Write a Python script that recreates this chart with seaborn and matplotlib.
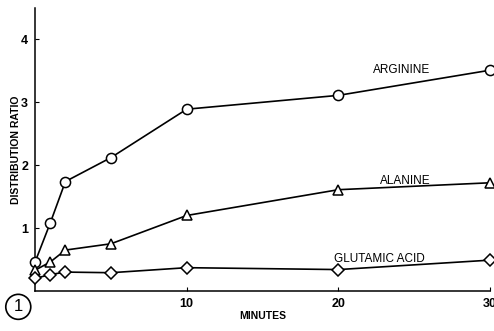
import matplotlib
matplotlib.use("Agg")
import matplotlib.pyplot as plt
import seaborn as sns
import pandas as pd

# data
minutes = [0, 1, 2, 5, 10, 20, 30]
arginine = [0.46, 1.08, 1.74, 2.12, 2.89, 3.11, 3.51]
alanine = [0.33, 0.46, 0.65, 0.75, 1.20, 1.61, 1.72]
glutamic = [0.20, 0.26, 0.30, 0.29, 0.37, 0.34, 0.49]

series = {"ARGININE": (arginine, "o"), "ALANINE": (alanine, "^"), "GLUTAMIC ACID": (glutamic, "D")}

sns.set_style("ticks")
plt.rcParams["font.family"] = ["Liberation Sans", "DejaVu Sans"]
plt.rcParams["text.color"] = "black"
plt.rcParams["axes.labelcolor"] = "black"

fig = plt.figure(figsize=(4.94, 3.31), dpi=100)
ax = fig.add_axes([0.071, 0.121, 0.921, 0.855])

for name, (vals, mk) in series.items():
    df = pd.DataFrame({"Minutes": minutes, "Ratio": vals})
    ms = 6.5 if mk == "D" else 7.3
    sns.lineplot(data=df, x="Minutes", y="Ratio", ax=ax, color="black", lw=1.2,
                 marker=mk, markersize=ms, markerfacecolor="white",
                 markeredgecolor="black", markeredgewidth=1.1, clip_on=False, zorder=3)

ax.set_xlim(0, 30)
ax.set_ylim(0, 4.5)
ax.set_xticks([10, 20, 30])
ax.set_xticklabels(["10", "20", "30"])
ax.set_yticks([1, 2, 3, 4])
ax.tick_params(direction="in", length=3, width=0.8, labelsize=9, pad=5, colors="black")
for lab in ax.get_xticklabels() + ax.get_yticklabels():
    lab.set_fontweight("bold")
sns.despine(ax=ax)
ax.spines["left"].set_linewidth(1.1)
ax.spines["bottom"].set_linewidth(1.1)
ax.spines["left"].set_color("black")
ax.spines["bottom"].set_color("black")

ax.set_xlabel("MINUTES", fontsize=7.5, fontweight="bold", labelpad=1)
ax.set_ylabel("DISTRIBUTION RATIO", fontsize=7.5, fontweight="bold", labelpad=0)

ax.text(24.2, 3.42, "ARGININE", fontsize=8.5, ha="center", va="bottom")
ax.text(24.4, 1.66, "ALANINE", fontsize=8.5, ha="center", va="bottom")
ax.text(22.7, 0.42, "GLUTAMIC ACID", fontsize=8.5, ha="center", va="bottom")

fig.text(0.037, 0.073, "1", fontsize=12, ha="center", va="center",
         bbox=dict(boxstyle="circle,pad=0.3", fc="white", ec="black", lw=1.2))

fig.savefig("out.png", dpi=100)
